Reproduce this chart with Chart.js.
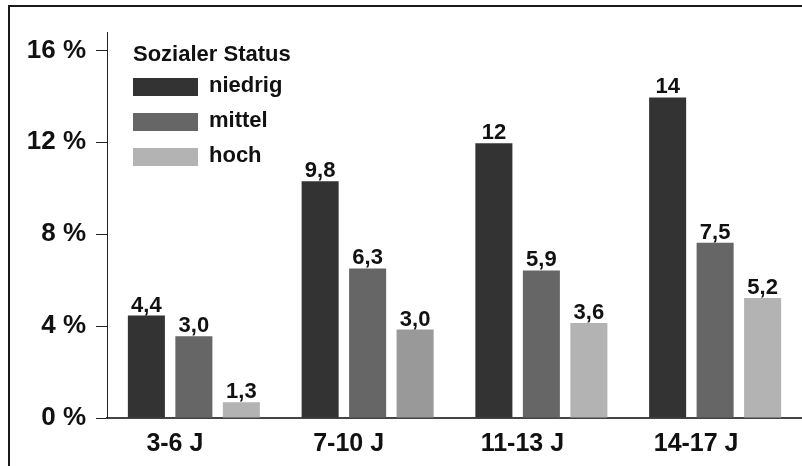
<!DOCTYPE html>
<html lang="de">
<head>
<meta charset="utf-8">
<title>Sozialer Status nach Altersgruppe</title>
<script src="https://cdn.jsdelivr.net/npm/chart.js@4"></script>
<style>
  html, body { margin: 0; padding: 0; background: #fff; overflow: hidden; }
  #wrap { width: 802px; height: 466px; }
</style>
</head>
<body>
<div id="wrap"><canvas id="statusChart" width="802" height="466"></canvas></div>
<script>
// Altersgruppen
const kategorien = ['3-6 J', '7-10 J', '11-13 J', '14-17 J'];

// Balkenhoehen (in %)
const niedrig = [4.46, 10.3, 11.96, 13.95];
const mittel = [3.56, 6.51, 6.42, 7.63];
const hoch = [0.69, 3.85, 4.13, 5.22];

// Beschriftungen ueber den Balken
const textNiedrig = ['4,4', '9,8', '12', '14'];
const textMittel = ['3,0', '6,3', '5,9', '7,5'];
const textHoch = ['1,3', '3,0', '3,6', '5,2'];

// Y-Achse
const yTicks = [0, 4, 8, 12, 16];
const legendeTitel = 'Sozialer Status';

const schrift = '"Liberation Sans", Arial, Helvetica, sans-serif';

document.addEventListener('DOMContentLoaded', function() {

    // Rahmen links und oben
    const rahmenPlugin = {
        id: 'rahmen',
        beforeDraw(chart) {
            const ctx = chart.ctx;
            ctx.save();
            ctx.strokeStyle = '#1a1a1a';
            ctx.lineWidth = 2;
            ctx.beginPath();
            ctx.moveTo(9, 466);
            ctx.lineTo(9, 6);
            ctx.lineTo(802, 6);
            ctx.stroke();
            ctx.restore();
        }
    };

    // Werte ueber den Balken
    const wertePlugin = {
        id: 'werte',
        afterDatasetsDraw(chart) {
            const ctx = chart.ctx;
            ctx.save();
            ctx.font = 'bold 22px ' + schrift;
            ctx.fillStyle = '#111';
            ctx.textAlign = 'center';
            ctx.textBaseline = 'alphabetic';
            chart.data.datasets.forEach((ds, i) => {
                const meta = chart.getDatasetMeta(i);
                meta.data.forEach((bar, j) => {
                    ctx.fillText(ds.beschriftung[j], bar.x, bar.y - 4);
                });
            });
            ctx.restore();
        }
    };

    // Legende im Diagrammbereich
    const legendePlugin = {
        id: 'legendeInnen',
        afterDraw(chart) {
            const ctx = chart.ctx;
            ctx.save();
            ctx.fillStyle = '#111';
            ctx.textAlign = 'left';
            ctx.textBaseline = 'middle';
            ctx.font = 'bold 22px ' + schrift;
            ctx.fillText(legendeTitel, 133, 55);
            chart.data.datasets.forEach((ds, i) => {
                const y = 78 + i * 35;
                ctx.fillStyle = ds.legendeFarbe;
                ctx.fillRect(133, y, 65, 18);
                ctx.fillStyle = '#111';
                ctx.fillText(ds.label, 209, y + 8);
            });
            ctx.restore();
        }
    };

    const ctx = document.getElementById('statusChart').getContext('2d');
    new Chart(ctx, {
        type: 'bar',
        data: {
            labels: kategorien,
            datasets: [
                { label: 'niedrig', data: niedrig, beschriftung: textNiedrig,
                  backgroundColor: '#333333', legendeFarbe: '#333333' },
                { label: 'mittel', data: mittel, beschriftung: textMittel,
                  backgroundColor: '#666666', legendeFarbe: '#666666' },
                { label: 'hoch', data: hoch, beschriftung: textHoch,
                  backgroundColor: ['#b3b3b3', '#999999', '#b3b3b3', '#b3b3b3'], legendeFarbe: '#b3b3b3' }
            ]
        },
        options: {
            responsive: false,
            animation: false,
            layout: { padding: { left: 0, top: 32, right: 0, bottom: 0 } },
            datasets: {
                bar: { categoryPercentage: 0.82, barPercentage: 0.78, borderWidth: 0 }
            },
            plugins: {
                legend: { display: false },
                tooltip: { enabled: false },
                title: { display: false }
            },
            scales: {
                x: {
                    grid: { display: false, drawTicks: false },
                    border: { display: true, color: '#444', width: 2 },
                    ticks: {
                        color: '#111',
                        font: { family: schrift, size: 25, weight: 'bold' },
                        padding: 11,
                        labelOffset: -19,
                        maxRotation: 0
                    },
                    afterFit(scale) { scale.height = 48; }
                },
                y: {
                    min: 0,
                    max: 16.8,
                    grid: { drawOnChartArea: false, drawTicks: true, tickLength: 11, color: '#222', lineWidth: 1 },
                    border: { display: true, color: '#222', width: 1 },
                    afterBuildTicks(scale) {
                        scale.ticks = yTicks.map(v => ({ value: v }));
                    },
                    ticks: {
                        color: '#111',
                        font: { family: schrift, size: 26, weight: 'bold' },
                        padding: 10,
                        callback: v => v + ' %'
                    },
                    afterFit(scale) { scale.width = 107; }
                }
            }
        },
        plugins: [rahmenPlugin, wertePlugin, legendePlugin]
    });
});
</script>
</body>
</html>
